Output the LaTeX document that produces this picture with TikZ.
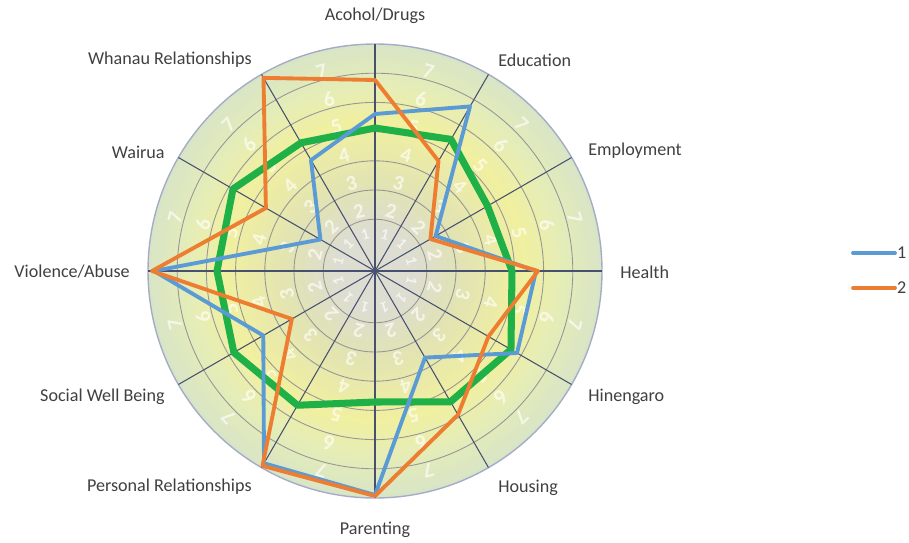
\documentclass[tikz,border=0pt]{standalone}
\usepackage{fontspec}
\setmainfont{Carlito}
\usetikzlibrary{positioning}

\definecolor{bgcore}{RGB}{221,221,210}
\definecolor{bgmid}{RGB}{225,227,180}
\definecolor{bgyel}{RGB}{241,240,160}
\definecolor{bgyeltwo}{RGB}{230,237,182}
\definecolor{bgout}{RGB}{216,229,198}
\definecolor{ringgray}{RGB}{150,150,150}
\definecolor{outerring}{RGB}{165,172,200}
\definecolor{spokeblue}{RGB}{72,80,112}
\definecolor{labelgray}{RGB}{64,64,64}
\definecolor{serblue}{RGB}{91,155,213}
\definecolor{serorange}{RGB}{237,125,49}
\definecolor{sergreen}{RGB}{32,176,72}

\begin{document}
\begin{tikzpicture}[x=0.02cm, y=0.02cm,
    ring/.style={draw=ringgray, line width=0.5pt},
    spoke/.style={draw=spokeblue, line width=0.6pt},
    axislabel/.style={text=labelgray, font=\fontsize{10.3}{12}\selectfont, inner sep=0pt},
    bandnum/.style={text=white, text opacity=0.65, font=\fontsize{12}{12}\selectfont\bfseries, inner sep=0pt},
    serone/.style={draw=serblue, line width=2.2pt, line join=round},
    sertwo/.style={draw=serorange, line width=2.2pt, line join=round},
    serbase/.style={draw=sergreen, line width=4pt, line join=round}]
  \useasboundingbox (0,0) rectangle (909,542);

  \begin{scope}[shift={(375,271)}]
    % background, outer to inner
    \foreach \ro/\ri/\co/\ci in {227/185/bgout/bgyeltwo, 185/150/bgyeltwo/bgyel,
        150/85/bgyel/bgmid, 85/40/bgmid/bgcore}
      \foreach \t in {0,...,19}{
        \pgfmathsetmacro\rr{\ro-(\ro-\ri)*\t/20}
        \pgfmathtruncatemacro\pp{100-5*\t}
        \fill[\co!\pp!\ci] (0,0) circle (\rr);
      }
    \fill[bgcore] (0,0) circle (40);

    \foreach \r in {51.8,81,110.2,139.4,168.6,197.8}
      \draw[ring] (0,0) circle (\r);
    \draw[draw=outerring, line width=0.8pt] (0,0) circle (227);

    % band numbers
    \foreach \a in {15,45,...,345}
      \node[bandnum, font=\fontsize{9}{9}\selectfont\bfseries, rotate=\a-90] at (\a:38) {1};
    \foreach \k/\rr in {2/62,3/91,4/120,5/149,6/178,7/207}
      \foreach \a in {15,45,...,345}
        \node[bandnum, rotate=\a-90] at (\a:\rr) {\k};

    \foreach \a in {0,30,...,330}
      \draw[spoke] (0,0) -- (\a:227);
    \fill[spokeblue] (0,0) circle (2);

    \draw[serbase] (90:143) -- (60:152) -- (30:130) -- (0:137) -- (-30:157) -- (-60:151)
      -- (-90:131) -- (-120:155) -- (-150:163) -- (180:158) -- (150:164) -- (120:148) -- cycle;
    \draw[serone] (90:157) -- (60:190) -- (30:70) -- (0:161) -- (-30:164) -- (-60:100)
      -- (-90:224) -- (-120:222) -- (-150:129) -- (180:221) -- (150:63) -- (120:128) -- cycle;
    \draw[sertwo] (90:191) -- (60:127) -- (30:64) -- (0:163) -- (-30:131) -- (-60:166)
      -- (-90:225) -- (-120:225) -- (-150:96) -- (180:223) -- (150:126) -- (120:223) -- cycle;
  \end{scope}

  \node[axislabel] (alcohol) at (375,526) {Acohol/Drugs};
  \node[axislabel, anchor=west] (education) at (498,482) {Education};
  \node[axislabel, anchor=west] (employment) at (588,391) {Employment};
  \node[axislabel, anchor=west] (health) at (620,270) {Health};
  \node[axislabel, anchor=west] (hinengaro) at (588,145) {Hinengaro};
  \node[axislabel, anchor=west] (housing) at (498,54) {Housing};
  \node[axislabel] (parenting) at (375,12) {Parenting};
  \node[axislabel, anchor=east] (personal) at (252,55) {Personal Relationships};
  \node[axislabel, anchor=east] (social) at (165,145) {Social Well Being};
  \node[axislabel, anchor=east] (violence) at (130,270) {Violence/Abuse};
  \node[axislabel, anchor=east] (wairua) at (165,390) {Wairua};
  \node[axislabel, anchor=east] (whanau) at (252,482) {Whanau Relationships};

  % legend
  \coordinate (oneA) at (853,289);
  \coordinate (oneB) at (895,289);
  \coordinate (twoA) at (853,254);
  \coordinate (twoB) at (895,254);
  \draw[serone, line cap=round] (oneA) -- (oneB);
  \draw[sertwo, line cap=round] (twoA) -- (twoB);
  \node[axislabel, right=1pt of oneB] (onelabel) {1};
  \node[axislabel, right=1pt of twoB] (twolabel) {2};
\end{tikzpicture}
\end{document}
